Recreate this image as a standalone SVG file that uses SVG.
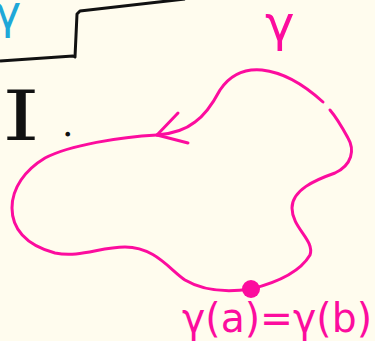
<svg xmlns="http://www.w3.org/2000/svg" width="375" height="341" viewBox="0 0 375 341">
<style>
.pink{fill:none;stroke:#fc0c9e;stroke-width:3;stroke-linecap:round;stroke-linejoin:round}
.ptext{fill:#fc0c9e;font-family:"DejaVu Sans",sans-serif}
</style>
<rect width="375" height="341" fill="#fffcee"/>
<g id="step-line">
<path d="M0,61 L73,56 L75,57 L77,14 L80,11 L185,-1" fill="none" stroke="#111" stroke-width="3" stroke-linejoin="round"/>
</g>
<g id="cyan-gamma">
<text x="-6" y="28" font-family="DejaVu Sans,sans-serif" font-size="46" fill="#1fa8d8">γ</text>
</g>
<g id="label-I">
<text x="2" y="140" font-family="DejaVu Serif,serif" font-size="70" fill="#111" textLength="38" lengthAdjust="spacingAndGlyphs">I</text>
<text x="62" y="136" font-family="DejaVu Serif,serif" font-size="36" fill="#111">.</text>
</g>
<g id="curve">
<path class="pink" d="M157,135 C120,137 70,145 45,158 C25,170 12,188 12,208 C12,228 25,245 55,253 C80,258 100,247 125,247 C155,247 170,270 185,280 C205,292 230,292 251,289 C275,283 300,272 310,255 C315,240 292,228 292,208 C292,190 315,180 335,173 C352,165 355,150 348,138 C342,127 336,117 330,110"/>
<path class="pink" d="M323,102 C312,92 290,73 262,70 C240,68 228,78 220,90 C212,105 205,115 195,122 C185,130 170,134 157,135"/>
<path class="pink" d="M178,113 L157,135 L188,143"/>
</g>
<g id="point">
<circle cx="251" cy="289" r="9" fill="#fc0c9e"/>
</g>
<g id="label-gamma">
<text class="ptext" x="265" y="41" font-size="50">γ</text>
</g>
<g id="label-endpoints">
<text class="ptext" x="182" y="332" font-size="40" textLength="190" lengthAdjust="spacingAndGlyphs">γ(a)=γ(b)</text>
</g>
</svg>
